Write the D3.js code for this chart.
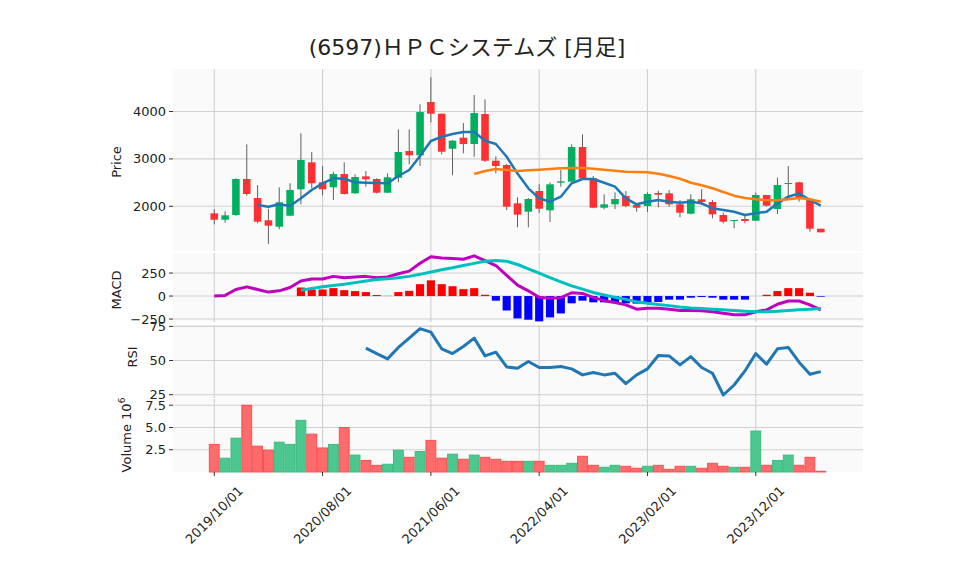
<!DOCTYPE html>
<html>
<head>
<meta charset="utf-8">
<script src="https://cdn.jsdelivr.net/npm/d3@7"></script>
<style>
body { margin: 0; background: #fff; }
text { font-family: "DejaVu Sans", sans-serif; fill: #222; }
</style>
</head>
<body>
<div id="chart"></div>
<script>
// monthly bars 2019/10 .. 2024/06
const months = d3.timeMonth.range(new Date(2019, 9, 1), new Date(2024, 6, 1));

const open  = [1852,1717,1816,2576,2175,1705,1570,1802,2358,2928,2506,2401,2681,2274,2632,2576,2287,2603,3167,3076,
               4200,3954,3215,3447,3314,3947,2962,2871,2063,1886,2323,1916,2498,2519,3251,2590,1970,2042,2217,2027,
               2006,2281,2273,2042,1844,2148,2091,1816,1696,1732,1696,2238,1943,2470,2506,2133,1527];
const high  = [1935,1895,2590,3308,2447,1949,2400,2485,3540,3146,2852,2730,2928,2675,2745,2590,2696,3624,3624,4152,
               4722,3954,3399,3757,4348,4256,3055,2892,2190,2175,2464,2506,2766,3308,3519,2639,2253,2295,2323,2063,
               2295,2329,2344,2133,2253,2359,2133,1865,1711,1795,2287,2238,2603,2850,2519,2169,1527];
const low   = [1620,1654,1800,2224,1641,1205,1515,1790,2042,2380,2232,2133,2250,2259,2414,2270,2280,2506,2886,2852,
               3772,3097,2654,3118,3046,2935,2696,1922,1557,1557,1865,1669,2414,2510,2580,1960,1937,1943,1979,1886,
               1880,1979,1992,1768,1830,2027,1747,1641,1536,1641,1690,1992,1838,2169,2097,1464,1451];
const close = [1717,1810,2576,2259,1675,1591,2084,2344,2977,2485,2358,2681,2259,2618,2569,2287,2612,3146,3076,3989,
               3954,3152,3384,3314,3968,2962,2850,1992,1823,2154,1949,2464,2527,3251,2590,1970,2042,2154,2006,1970,
               2259,2245,2042,1865,2148,2091,1831,1675,1711,1690,2238,2013,2449,2492,2154,1527,1451];

// volume in millions
const volume = [3.1,1.55,3.8,7.5,2.9,2.45,3.35,3.1,5.8,4.25,2.7,3.1,5.0,1.9,1.3,0.75,0.87,2.45,1.65,2.3,
                3.55,1.55,2.0,1.43,1.9,1.65,1.43,1.2,1.2,1.2,1.2,0.75,0.75,0.98,1.76,0.75,0.53,0.75,0.64,0.42,
                0.64,0.75,0.3,0.64,0.64,0.42,0.98,0.64,0.53,0.53,4.6,0.75,1.3,1.9,0.75,1.65,0.08];

const ma5 = [null,null,null,null,2027,1992,2042,2006,2169,2344,2485,2590,2582,2506,2498,2492,2485,2639,2766,3060,
             3378,3468,3525,3568,3568,3384,3314,3046,2690,2380,2169,2097,2203,2485,2576,2576,2498,2414,2169,2042,
             2097,2133,2097,2076,2097,2063,1958,1922,1886,1816,1852,1886,2063,2203,2274,2133,2013];
const ma25 = [null,null,null,null,null,null,null,null,null,null,null,null,null,null,null,null,null,null,null,null,
              null,null,null,null,2681,2745,2787,2766,2745,2759,2773,2787,2801,2808,2808,2794,2773,2752,2730,2724,
              2717,2688,2639,2582,2498,2443,2380,2302,2224,2175,2148,2127,2127,2148,2175,2148,2097];

const macd = [0,7,71,100,71,43,57,93,164,186,186,214,200,207,214,200,207,243,271,357,
              428,414,407,400,437,386,332,225,118,57,-14,-25,-18,36,29,-14,-50,-71,-96,-143,
              -132,-132,-143,-157,-157,-161,-171,-186,-204,-204,-171,-150,-89,-54,-54,-96,-150];
const signal = [null,null,null,null,null,null,null,null,64,82,100,114,129,146,164,179,189,200,214,236,
                261,286,307,332,355,378,386,378,343,296,250,200,154,111,75,39,11,-14,-36,-61,
                -79,-93,-104,-118,-129,-136,-143,-150,-157,-164,-171,-171,-164,-157,-150,-143,-136];
const hist = [null,null,null,null,null,null,null,null,93,71,71,86,64,54,43,11,2,43,57,129,
              171,129,107,75,86,14,-50,-157,-243,-257,-275,-232,-189,-79,-50,-68,-68,-71,-79,-82,
              -79,-64,-39,-39,-18,-11,-18,-39,-39,-39,0,14,54,86,86,36,-7];

const rsi = [null,null,null,null,null,null,null,null,null,null,null,null,null,null,59.1,55.1,51.2,59.6,66.4,73.3,
             70.8,58.6,55.1,60.3,66.4,53.4,56.1,45.3,44.4,49.3,44.9,44.9,45.6,43.9,39.5,41.2,39.5,40.7,33.1,39.5,
             43.9,53.7,53.4,46.8,52.9,44.9,40.7,24.8,32.1,42.4,55.1,47.3,58.6,59.6,48.8,40.0,41.9];

const xTickIdx = [0, 10, 20, 30, 40, 50];
const priceTicks = [2000, 3000, 4000];
const macdTicks = [-250, 0, 250];
const rsiTicks = [25, 50, 75];
const volTicks = [2.5, 5.0, 7.5];

const upColor = "#00b060", downColor = "#fe3032";

const svg = d3.select("#chart").append("svg")
    .attr("width", 958)
    .attr("height", 575);

const left = 173, right = 863;
const x = d3.scaleLinear().domain([-3.81, 59.9]).range([left, right]);
const step = x(1) - x(0);
const idx = d3.range(close.length);

const panels = [
    { key: "price", y: d3.scaleLinear().domain([1057, 4897]).range([251, 69]), ticks: priceTicks, fmt: d3.format("d"), label: "Price", lx: 116, ly: 162 },
    { key: "macd", y: d3.scaleLinear().domain([-282, 468]).range([322, 253]), ticks: macdTicks, fmt: d3.format("d"), label: "MACD", lx: 116, ly: 290 },
    { key: "rsi", y: d3.scaleLinear().domain([22.6, 76]).range([398, 325]), ticks: rsiTicks, fmt: d3.format("d"), label: "RSI", lx: 132, ly: 357 },
    { key: "vol", y: d3.scaleLinear().domain([0, 8.2]).range([472, 399]), ticks: volTicks, fmt: d3.format(".1f"), label: "Volume", lx: 126, ly: 435 }
];
const P = {};
panels.forEach(function (p) { P[p.key] = p; });

// backgrounds, grid, y axis
panels.forEach(function (p) {
    const r = p.y.range();
    const g = svg.append("g");
    g.append("rect")
        .attr("x", left).attr("y", r[1])
        .attr("width", right - left).attr("height", r[0] - r[1])
        .attr("fill", "#fafafa");
    g.selectAll(".vg").data(xTickIdx).enter().append("line")
        .attr("x1", d => x(d)).attr("x2", d => x(d))
        .attr("y1", r[1]).attr("y2", r[0])
        .attr("stroke", "#d0d0d0").attr("stroke-width", 1.1);
    g.selectAll(".hg").data(p.ticks).enter().append("line")
        .attr("x1", left).attr("x2", right)
        .attr("y1", d => p.y(d)).attr("y2", d => p.y(d))
        .attr("stroke", "#d0d0d0").attr("stroke-width", 1.1);
    g.selectAll(".tk").data(p.ticks).enter().append("line")
        .attr("x1", left - 4).attr("x2", left)
        .attr("y1", d => p.y(d)).attr("y2", d => p.y(d))
        .attr("stroke", "#333").attr("stroke-width", 1);
    g.selectAll(".tl").data(p.ticks).enter().append("text")
        .attr("x", left - 7).attr("y", d => p.y(d))
        .attr("dy", "0.35em")
        .attr("text-anchor", "end")
        .attr("font-size", 13)
        .text(d => p.fmt(d));
});

// y labels
panels.forEach(function (p) {
    const t = svg.append("text")
        .attr("transform", "translate(" + p.lx + "," + p.ly + ") rotate(-90)")
        .attr("text-anchor", "middle")
        .attr("dominant-baseline", "central")
        .attr("font-size", 13)
        .text(p.label);
    if (p.key === "vol") {
        t.append("tspan").text("  10");
        t.append("tspan").attr("dy", "-0.5em").attr("font-size", 9).text("6");
    }
});

// candles
const yp = P.price.y;
const cw = step * 0.7;
svg.append("g").selectAll("line").data(idx).enter().append("line")
    .attr("x1", d => x(d)).attr("x2", d => x(d))
    .attr("y1", d => yp(high[d])).attr("y2", d => yp(low[d]))
    .attr("stroke", "#606060").attr("stroke-width", 1);
svg.append("g").selectAll("rect").data(idx).enter().append("rect")
    .attr("x", d => x(d) - cw / 2)
    .attr("width", cw)
    .attr("y", d => yp(Math.max(open[d], close[d])))
    .attr("height", d => Math.max(1, Math.abs(yp(open[d]) - yp(close[d]))))
    .attr("fill", d => close[d] >= open[d] ? upColor : downColor);

function drawLine(vals, yscale, color, w) {
    svg.append("path")
        .datum(idx)
        .attr("fill", "none")
        .attr("stroke", color)
        .attr("stroke-width", w)
        .attr("stroke-linejoin", "round")
        .attr("d", d3.line()
            .defined(d => vals[d] !== null)
            .x(d => x(d))
            .y(d => yscale(vals[d])));
}
drawLine(ma5, yp, "#1f77b4", 2.5);
drawLine(ma25, yp, "#ff7f0e", 2.5);

// MACD
const ym = P.macd.y;
const hw = step * 0.75;
svg.append("g").selectAll("rect").data(idx.filter(d => hist[d] !== null)).enter().append("rect")
    .attr("x", d => x(d) - hw / 2)
    .attr("width", hw)
    .attr("y", d => Math.min(ym(0), ym(hist[d])))
    .attr("height", d => Math.abs(ym(hist[d]) - ym(0)))
    .attr("fill", d => hist[d] >= 0 ? "#ff0000" : "#0000ff");
drawLine(macd, ym, "#bf00bf", 3);
drawLine(signal, ym, "#00bfbf", 3);

// RSI
drawLine(rsi, P.rsi.y, "#1f77b4", 3);

// volume
const yv = P.vol.y;
svg.append("g").selectAll("rect").data(idx).enter().append("rect")
    .attr("x", d => x(d) - step / 2 + 0.5)
    .attr("width", step - 1)
    .attr("y", d => yv(volume[d]))
    .attr("height", d => yv(0) - yv(volume[d]))
    .attr("fill", d => close[d] >= open[d] ? "#4dc790" : "#fd6b6c")
    .attr("stroke", d => close[d] >= open[d] ? "#3dbb80" : "#fd5050")
    .attr("stroke-width", 1);

// x axis ticks and labels
const fmtDate = d3.timeFormat("%Y/%m/%d");
svg.append("g").selectAll("line").data(xTickIdx).enter().append("line")
    .attr("x1", d => x(d)).attr("x2", d => x(d))
    .attr("y1", 472).attr("y2", 476)
    .attr("stroke", "#333");
svg.append("g").selectAll("text").data(xTickIdx).enter().append("text")
    .attr("transform", d => "translate(" + x(d) + ",515) rotate(-45)")
    .attr("text-anchor", "middle")
    .attr("dominant-baseline", "central")
    .attr("font-size", 13)
    .text(d => fmtDate(months[d]));

// title
svg.append("text")
    .attr("x", 467).attr("y", 55)
    .attr("text-anchor", "middle")
    .attr("font-size", 22)
    .style("font-family", "'DejaVu Sans', 'Noto Sans CJK JP', sans-serif")
    .text("(6597)ＨＰＣシステムズ [月足]");
</script>
</body>
</html>
